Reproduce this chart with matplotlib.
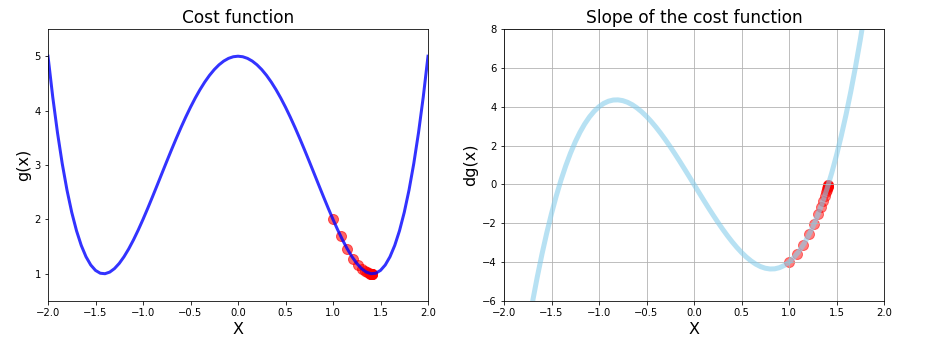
import numpy as np
import matplotlib
matplotlib.use("Agg")
from matplotlib import pyplot as plt

# curve samples
x_curve = [-2.00, -1.95, -1.90, -1.85, -1.80, -1.75, -1.70, -1.65, -1.60, -1.55,
           -1.50, -1.45, -1.40, -1.35, -1.30, -1.25, -1.20, -1.15, -1.10, -1.05,
           -1.00, -0.95, -0.90, -0.85, -0.80, -0.75, -0.70, -0.65, -0.60, -0.55,
           -0.50, -0.45, -0.40, -0.35, -0.30, -0.25, -0.20, -0.15, -0.10, -0.05,
           0.00, 0.05, 0.10, 0.15, 0.20, 0.25, 0.30, 0.35, 0.40, 0.45,
           0.50, 0.55, 0.60, 0.65, 0.70, 0.75, 0.80, 0.85, 0.90, 0.95,
           1.00, 1.05, 1.10, 1.15, 1.20, 1.25, 1.30, 1.35, 1.40, 1.45,
           1.50, 1.55, 1.60, 1.65, 1.70, 1.75, 1.80, 1.85, 1.90, 1.95, 2.00]

g_curve = [5.0000, 4.2490, 3.5921, 3.0235, 2.5376, 2.1289, 1.7921, 1.5220, 1.3136, 1.1620,
           1.0625, 1.0105, 1.0016, 1.0315, 1.0961, 1.1914, 1.3136, 1.4590, 1.6241, 1.8055,
           2.0000, 2.2045, 2.4161, 2.6320, 2.8496, 3.0664, 3.2801, 3.4885, 3.6896, 3.8815,
           4.0625, 4.2310, 4.3856, 4.5250, 4.6481, 4.7539, 4.8416, 4.9105, 4.9601, 4.9900,
           5.0000, 4.9900, 4.9601, 4.9105, 4.8416, 4.7539, 4.6481, 4.5250, 4.3856, 4.2310,
           4.0625, 3.8815, 3.6896, 3.4885, 3.2801, 3.0664, 2.8496, 2.6320, 2.4161, 2.2045,
           2.0000, 1.8055, 1.6241, 1.4590, 1.3136, 1.1914, 1.0961, 1.0315, 1.0016, 1.0105,
           1.0625, 1.1620, 1.3136, 1.5220, 1.7921, 2.1289, 2.5376, 3.0235, 3.5921, 4.2490, 5.0000]

dg_curve = [-16.000, -14.060, -12.236, -10.527, -8.928, -7.438, -6.052, -4.769, -3.584, -2.496,
            -1.500, -0.595, 0.224, 0.959, 1.612, 2.188, 2.688, 3.117, 3.476, 3.770,
            4.000, 4.171, 4.284, 4.344, 4.352, 4.313, 4.228, 4.102, 3.936, 3.735,
            3.500, 3.236, 2.944, 2.629, 2.292, 1.938, 1.568, 1.187, 0.796, 0.400,
            0.000, -0.400, -0.796, -1.187, -1.568, -1.938, -2.292, -2.629, -2.944, -3.236,
            -3.500, -3.735, -3.936, -4.102, -4.228, -4.313, -4.352, -4.344, -4.284, -4.171,
            -4.000, -3.770, -3.476, -3.117, -2.688, -2.188, -1.612, -0.959, -0.224, 0.595,
            1.500, 2.496, 3.584, 4.769, 6.052, 7.438, 8.928, 10.527, 12.236, 14.060, 16.000]

# descent steps
list_x = [1.000, 1.080, 1.152, 1.214, 1.265, 1.306, 1.336, 1.359, 1.376, 1.388,
          1.396, 1.402, 1.406, 1.408, 1.410, 1.412, 1.413]
list_g = [2.000, 1.695, 1.453, 1.277, 1.160, 1.087, 1.046, 1.024, 1.011, 1.005,
          1.0025, 1.0012, 1.0005, 1.0002, 1.0001, 1.0000, 1.0000]
deriv_list = [-4.00, -3.60, -3.10, -2.55, -2.02, -1.54, -1.14, -0.83, -0.59, -0.41,
              -0.29, -0.20, -0.135, -0.093, -0.063, -0.043, -0.029]

fig = plt.figure(figsize=(927 / 72, 346 / 72), dpi=72)

ax1 = fig.add_axes([48 / 927, 45 / 346, 380 / 927, 272 / 346])
ax1.set_xlim(-2, 2)
ax1.set_ylim(0.5, 5.5)
ax1.set_title('Cost function', fontsize=17)
ax1.set_xlabel('X', fontsize=16)
ax1.set_ylabel('g(x)', fontsize=16)
ax1.plot(x_curve, g_curve, color='blue', linewidth=3, alpha=0.8)
ax1.scatter(list_x, list_g, color='red', s=100, alpha=0.6)

ax2 = fig.add_axes([504 / 927, 45 / 346, 380 / 927, 272 / 346])
ax2.set_title('Slope of the cost function', fontsize=17)
ax2.set_xlabel('X', fontsize=16)
ax2.set_ylabel('dg(x)', fontsize=16)
ax2.grid()
ax2.set_xlim(-2, 2)
ax2.set_ylim(-6, 8)
ax2.plot(x_curve, dg_curve, color='skyblue', linewidth=5, alpha=0.6)
ax2.scatter(list_x, deriv_list, color='red', s=100, alpha=0.5)

fig.savefig('out.png', dpi=72)
